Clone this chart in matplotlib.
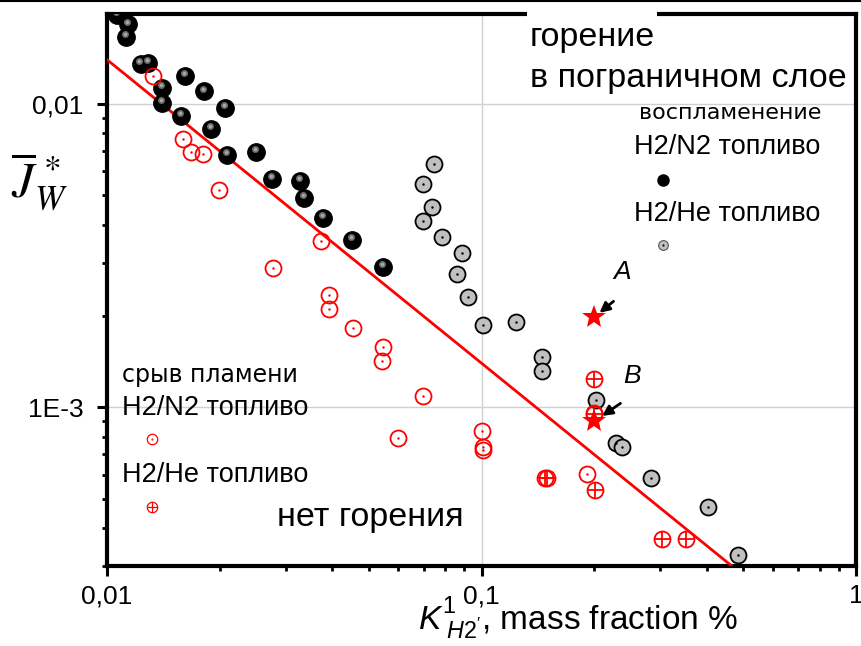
import matplotlib.pyplot as plt
from matplotlib.lines import Line2D
from matplotlib.patches import Rectangle
from matplotlib.ticker import FixedLocator, FixedFormatter, LogLocator, NullFormatter
from matplotlib.transforms import offset_copy


# ------------------------------------------------------------
# Ignition / flame blow-off map, log-log
# ------------------------------------------------------------

plt.rcParams["font.family"] = ["Liberation Sans", "DejaVu Sans"]
plt.rcParams["mathtext.fontset"] = "custom"
plt.rcParams["mathtext.it"] = "Liberation Sans:italic"
plt.rcParams["mathtext.rm"] = "Liberation Sans"

# ignition, H2/N2 fuel (black spheres)
ign_n2_x = [0.01063, 0.01138, 0.01124, 0.01230, 0.01287, 0.01403, 0.01403, 0.01615,
            0.01816, 0.02065, 0.01576, 0.01895, 0.02091, 0.02500, 0.02758, 0.03277,
            0.03357, 0.03774, 0.04511, 0.05458]
ign_n2_y = [0.01967, 0.01830, 0.01664, 0.01355, 0.01366, 0.01129, 0.01010, 0.01240,
            0.01100, 0.00970, 0.00915, 0.00827, 0.00679, 0.00694, 0.00565, 0.00557,
            0.00490, 0.00421, 0.00356, 0.00290]

# ignition, H2/He fuel (grey circles)
ign_he_x = [0.07469, 0.06981, 0.07377, 0.06981, 0.07844, 0.08870, 0.08600, 0.09204,
            0.1009, 0.1236, 0.1451, 0.1451, 0.2022, 0.2287, 0.2372, 0.2836, 0.4025, 0.4841]
ign_he_y = [0.00634, 0.00545, 0.00457, 0.00411, 0.00364, 0.00322, 0.00275, 0.00232,
            0.001866, 0.00191, 0.001462, 0.001315, 0.001054, 0.000766, 0.000738,
            0.000587, 0.000468, 0.000325]

# flame blow-off, H2/N2 fuel (red open circles)
off_n2_x = [0.01327, 0.01595, 0.01676, 0.01805, 0.01991, 0.02775, 0.03728, 0.03916,
            0.03916, 0.04539, 0.05458, 0.05424, 0.06981, 0.05984, 0.1003, 0.1009,
            0.1009, 0.1913, 0.2000]
off_n2_y = [0.01237, 0.00766, 0.00694, 0.00684, 0.00520, 0.002875, 0.00353, 0.002342,
            0.002105, 0.001823, 0.001578, 0.001418, 0.001087, 0.000790, 0.000833,
            0.000740, 0.000725, 0.000605, 0.000960]

# flame blow-off, H2/He fuel (red crossed circles)
off_he_x = [0.1480, 0.1500, 0.1998, 0.1998, 0.2010, 0.3034, 0.3516]
off_he_y = [0.000583, 0.000583, 0.001237, 0.000948, 0.000536, 0.000367, 0.000367]

# points A and B
star_x = [0.1998, 0.1998]
star_y = [0.001982, 0.000899]

# boundary line
line_x = [0.01, 0.466]
line_y = [0.0140, 0.0003]


fig = plt.figure(figsize=(8.61, 6.46), dpi=100)
ax = fig.add_axes([0.1243, 0.1238, 0.8699, 0.8545])

ax.set_xscale("log")
ax.set_yscale("log")
ax.set_xlim(0.01, 1)
ax.set_ylim(3.0e-4, 0.0198)

# grid at the major decades only
ax.grid(True, which="major", color="#d0d0d0", linewidth=1.0)
ax.set_axisbelow(True)

ax.xaxis.set_major_locator(FixedLocator([0.01, 0.1, 1]))
ax.xaxis.set_major_formatter(FixedFormatter(["0,01", "0,1", "1"]))
ax.yaxis.set_major_locator(FixedLocator([0.001, 0.01]))
ax.yaxis.set_major_formatter(FixedFormatter(["1E-3", "0,01"]))
ax.xaxis.set_minor_locator(LogLocator(base=10, subs=range(2, 10)))
ax.yaxis.set_minor_locator(LogLocator(base=10, subs=range(2, 10)))
ax.xaxis.set_minor_formatter(NullFormatter())
ax.yaxis.set_minor_formatter(NullFormatter())

ax.tick_params(which="major", direction="out", length=7, width=2.2, labelsize=19)
ax.tick_params(axis="x", which="major", pad=6)
ax.tick_params(axis="y", which="major", pad=10)
ax.tick_params(which="minor", direction="out", length=3.6, width=2.0)
ax.tick_params(top=False, right=False)
for side in ["left", "bottom", "top", "right"]:
    ax.spines[side].set_linewidth(3.0)

# boundary line
ax.plot(line_x, line_y, color="red", linewidth=2.0, zorder=3)

# black spheres with a grey highlight
ax.plot(ign_n2_x, ign_n2_y, "o", color="black", markersize=12.5, zorder=4)
hl = offset_copy(ax.transData, fig=fig, x=-1.0, y=2.0, units="points")
ax.plot(ign_n2_x, ign_n2_y, "o", color="#6e6e6e", markeredgewidth=0, markersize=5,
        transform=hl, zorder=4)
ax.plot(ign_n2_x, ign_n2_y, "o", color="#a8a8a8", markeredgewidth=0, markersize=2.5,
        transform=hl, zorder=4)

# grey circles with a dot in the middle
ax.plot(ign_he_x, ign_he_y, "o", markerfacecolor="#c0c0c0", markeredgecolor="black",
        markeredgewidth=1.3, markersize=11.5, zorder=4)
ax.plot(ign_he_x, ign_he_y, ".", color="black", markersize=1.5, zorder=4)

# red open circles
ax.plot(off_n2_x, off_n2_y, "o", markerfacecolor="none", markeredgecolor="red",
        markeredgewidth=1.3, markersize=11.5, zorder=4)
ax.plot(off_n2_x, off_n2_y, ".", color="red", markersize=1.5, zorder=4)

# red crossed circles
ax.plot(off_he_x, off_he_y, "o", markerfacecolor="none", markeredgecolor="red",
        markeredgewidth=1.3, markersize=11.5, zorder=4)
ax.plot(off_he_x, off_he_y, "+", color="red", markeredgewidth=1.3, markersize=11.5, zorder=4)

# stars A and B
ax.plot(star_x, star_y, "*", color="red", markersize=18, markeredgewidth=0, zorder=5)
ax.annotate("", xy=(star_x[0], star_y[0]), xytext=(14, 11.5), textcoords="offset points",
            arrowprops=dict(arrowstyle="-|>", color="black", lw=2.0, mutation_scale=15,
                            shrinkA=0, shrinkB=5))
ax.annotate("", xy=(star_x[1], star_y[1]), xytext=(19, 13), textcoords="offset points",
            arrowprops=dict(arrowstyle="-|>", color="black", lw=2.0, mutation_scale=15,
                            shrinkA=0, shrinkB=7))
ax.text(0.2372, 0.00279, "A", fontsize=19, style="italic", ha="center", va="center")
ax.text(0.2523, 0.001265, "B", fontsize=19, style="italic", ha="center", va="center")

# white gap in the top frame behind the title words
ax.add_patch(Rectangle((0.5608, 0.95), 0.1735, 0.06, transform=ax.transAxes,
                       facecolor="white", edgecolor="none", zorder=9, clip_on=False))

# region and legend texts
ax.text(0.6475, 0.958, "горение", transform=ax.transAxes, fontsize=24.5, ha="center",
        va="center", zorder=10)
ax.text(0.5648, 0.884, "в пограничном слое", transform=ax.transAxes, fontsize=24.5,
        ha="left", va="center")
ax.text(0.8318, 0.8207, "воспламенение", transform=ax.transAxes, fontsize=16,
        family=["DejaVu Sans"], ha="center", va="center")
ax.text(0.828, 0.759, "H2/N2 топливо", transform=ax.transAxes, fontsize=19.5,
        ha="center", va="center")
ax.text(0.828, 0.6377, "H2/He топливо", transform=ax.transAxes, fontsize=19.5,
        ha="center", va="center")
ax.plot([0.7423], [0.6993], "o", color="black", markersize=8, transform=ax.transAxes)
ax.plot([0.7423], [0.5815], "o", markerfacecolor="#c0c0c0", markeredgecolor="#555555",
        markeredgewidth=0.8, markersize=7, transform=ax.transAxes)
ax.plot([0.7423], [0.5815], ".", color="black", markersize=1.2, transform=ax.transAxes)

ax.text(0.02, 0.346, "срыв пламени", transform=ax.transAxes, fontsize=17,
        family=["DejaVu Sans"], ha="left", va="center")
ax.text(0.02, 0.2862, "H2/N2 топливо", transform=ax.transAxes, fontsize=19.5,
        ha="left", va="center")
ax.text(0.02, 0.1649, "H2/He топливо", transform=ax.transAxes, fontsize=19.5,
        ha="left", va="center")
ax.plot([0.0601], [0.230], "o", markerfacecolor="none", markeredgecolor="red",
        markeredgewidth=0.9, markersize=7.5, transform=ax.transAxes)
ax.plot([0.0601], [0.230], ".", color="red", markersize=1.0, transform=ax.transAxes)
ax.plot([0.0601], [0.1069], "o", markerfacecolor="none", markeredgecolor="red",
        markeredgewidth=0.9, markersize=7.5, transform=ax.transAxes)
ax.plot([0.0601], [0.1069], "+", color="red", markeredgewidth=0.9, markersize=7.5,
        transform=ax.transAxes)

ax.text(0.227, 0.0888, "нет горения", transform=ax.transAxes, fontsize=24.5,
        ha="left", va="center")

# axis labels
fig.text(0.485, 0.0248, r"$K^{1}_{\ H2'}$, mass fraction %", fontsize=24,
         ha="left", va="baseline")
fig.text(0.046, 0.718, r"$\overline{J}^{\,*}_{W}$", fontsize=36, math_fontfamily="stix",
         ha="center", va="center")

# frame line along the top of the picture
fig.add_artist(Line2D([0, 1], [0.999, 0.999], transform=fig.transFigure,
                      color="black", linewidth=1.5))

fig.savefig("out.png", dpi=100)
